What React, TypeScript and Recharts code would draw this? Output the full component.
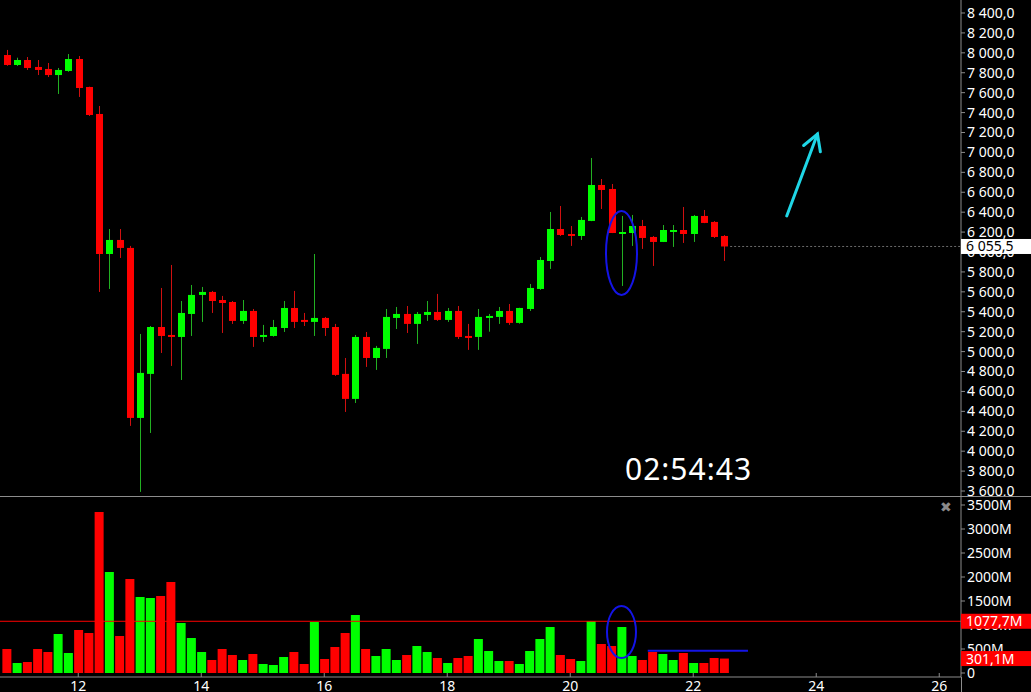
import React from 'react'
import { ComposedChart, Bar, Cell, XAxis, YAxis, ReferenceLine, ReferenceDot } from 'recharts'

// 4h candles, first visible one opens on the 10th at 20:00
const FIRST_CANDLE = 10 + 20 / 24
const CANDLE_STEP = 4 / 24

const opens = [
  7978, 7878, 7928, 7858, 7838, 7777, 7818, 7938, 7657, 7386, 5980, 6121, 6041, 4334, 4776, 5247, 5167, 5147,
  5378, 5569, 5599, 5518, 5498, 5308, 5408, 5147, 5157, 5237, 5438, 5318, 5298, 5338, 5247, 4776, 4525, 5147,
  4936, 5027, 5338, 5378, 5278, 5368, 5398, 5318, 5408, 5157, 5147, 5338, 5348, 5408, 5288, 5428, 5629, 5910,
  6231, 6181, 6161, 6312, 6673, 6633, 6191, 6191, 6261, 6151, 6101, 6201, 6221, 6181, 6362, 6302, 6161,
]
const highs = [
  8029, 7951, 7958, 7928, 7898, 7848, 7988, 7968, 7660, 7466, 6231, 6231, 6061, 5177, 5257, 5639, 5870, 5508,
  5669, 5649, 5609, 5559, 5508, 5518, 5428, 5268, 5318, 5508, 5609, 5388, 5980, 5348, 5278, 4936, 5167, 5197,
  5057, 5428, 5448, 5458, 5398, 5508, 5579, 5438, 5458, 5278, 5428, 5378, 5448, 5478, 5440, 5679, 5950, 6402,
  6462, 6261, 6352, 6944, 6733, 6683, 6362, 6372, 6322, 6160, 6271, 6271, 6452, 6372, 6422, 6310, 6170,
]
const lows = [
  7870, 7868, 7828, 7777, 7757, 7587, 7810, 7557, 7366, 5599, 5629, 5940, 4254, 3591, 4183, 4986, 4856, 4715,
  5157, 5298, 5388, 5187, 5278, 5278, 5047, 5097, 5150, 5197, 5237, 5257, 5157, 5157, 4756, 4394, 4484, 4846,
  4816, 4936, 5227, 5187, 5077, 5308, 5308, 5298, 5127, 5017, 5017, 5200, 5278, 5268, 5280, 5408, 5620, 5830,
  6161, 6061, 6121, 6310, 6432, 6190, 5659, 6061, 6031, 5860, 6100, 6051, 6091, 6101, 6290, 6141, 5910,
]
const closes = [
  7878, 7928, 7848, 7828, 7777, 7828, 7938, 7647, 7376, 5980, 6121, 6041, 4334, 4786, 5247, 5157, 5147, 5388,
  5569, 5599, 5508, 5488, 5308, 5408, 5147, 5167, 5247, 5438, 5298, 5298, 5338, 5237, 4766, 4525, 5147, 4936,
  5037, 5348, 5378, 5278, 5378, 5398, 5318, 5408, 5147, 5147, 5348, 5358, 5408, 5288, 5438, 5639, 5920, 6231,
  6171, 6161, 6322, 6673, 6623, 6191, 6201, 6261, 6141, 6101, 6221, 6221, 6181, 6362, 6292, 6151, 6055.5,
]
// volume in millions
const volumes = [
  500, 208, 229, 500, 437, 812, 417, 896, 833, 3354, 2104, 771, 1958, 1583, 1562, 1604, 1896, 1042,
  729, 437, 271, 500, 375, 271, 396, 187, 167, 333, 437, 187, 1062, 292, 542, 833, 1208, 500,
  354, 500, 271, 375, 562, 437, 312, 208, 312, 354, 708, 458, 250, 250, 187, 458, 708, 958,
  375, 292, 250, 1083, 604, 562, 958, 354, 271, 437, 396, 271, 417, 208, 208, 312, 301.1,
]

const dayTicks = [12, 14, 16, 18, 20, 22, 24, 26]
const priceTicks = [
  3600, 3800, 4000, 4200, 4400, 4600, 4800, 5000, 5200, 5400, 5600, 5800, 6000, 6200, 6400, 6600, 6800,
  7000, 7200, 7400, 7600, 7800, 8000, 8200, 8400,
]
const volumeTicks = [0, 500, 1000, 1500, 2000, 2500, 3000, 3500]

const lastPrice = 6055.5
const avgVolume = 1077.7
const lastVolume = 301.1
const timerText = '02:54:43'

const X_DOMAIN = [10.7276, 26.3537]
const PRICE_DOMAIN = [3550, 8530.5]
const VOLUME_DOMAIN = [-83.33, 3666.67]
const GREEN = '#00ff00'
const RED = '#ff0000'
const GREEN_WICK = '#22b022'
const RED_WICK = '#d01010'
const AXIS = '#8c8c8c'
const BLUE = '#1414e6'
const CYAN = '#1fd6e6'

const candles = opens.map((o, i) => ({
  t: FIRST_CANDLE + i * CANDLE_STEP,
  open: o,
  high: highs[i],
  low: lows[i],
  close: closes[i],
  vol: volumes[i],
  up: closes[i] >= o,
}))

const fmtPrice = (v: number) => {
  const [i, d] = v.toFixed(1).split('.')
  return i.replace(/\B(?=(\d{3})+(?!\d))/g, ' ') + ',' + d
}
const fmtVol = (v: number) => (v === 0 ? '0' : `${v}M`)
const fmtVolTag = (v: number) => `${v.toFixed(1).replace('.', ',')}M`

function Candle(props: any) {
  const { x, y, width, height, payload } = props
  if (x == null || !payload) return null
  const top = Math.min(y, y + height)
  const h = Math.abs(height)
  const k = h / (payload.high - payload.low)
  const yO = top + (payload.high - payload.open) * k
  const yC = top + (payload.high - payload.close) * k
  const cx = Math.round(x + width / 2) + 0.5
  const bodyTop = Math.min(yO, yC)
  const bodyH = Math.max(2, Math.abs(yO - yC))
  return (
    <g>
      <line x1={cx} x2={cx} y1={top} y2={top + h} stroke={payload.up ? GREEN_WICK : RED_WICK} strokeWidth={1} />
      <rect x={cx - width / 2} y={bodyTop} width={width} height={bodyH} fill={payload.up ? GREEN : RED} />
    </g>
  )
}

function AxisTag(props: any) {
  const { viewBox, text, bg, fg } = props
  if (!viewBox) return null
  const x = viewBox.x + viewBox.width
  return (
    <g>
      <rect x={x} y={viewBox.y - 7.5} width={70} height={15} fill={bg} />
      <text x={x + 5} y={viewBox.y + 5} fill={fg} fontSize={14}>
        {text}
      </text>
    </g>
  )
}

function Arrow(p: any) {
  const { x1, y1, x2, y2 } = p
  const ang = Math.atan2(y1 - y2, x1 - x2)
  const len = 18
  const w1x = x2 + len * Math.cos(ang + 0.52)
  const w1y = y2 + len * Math.sin(ang + 0.52)
  const w2x = x2 + len * Math.cos(ang - 0.52)
  const w2y = y2 + len * Math.sin(ang - 0.52)
  return (
    <g stroke={CYAN} strokeWidth={3} fill="none" strokeLinecap="round">
      <line x1={x1} y1={y1} x2={x2} y2={y2} />
      <polyline points={`${w1x},${w1y} ${x2},${y2} ${w2x},${w2y}`} />
    </g>
  )
}

const tickStyle = { fill: '#ffffff', fontSize: 14 }
const noMargin = { top: 0, right: 0, bottom: 0, left: 0 }
const layer = { position: 'absolute' as const, left: 0 }

export default function App() {
  return (
    <div
      style={{
        position: 'absolute',
        left: 0,
        top: 0,
        width: 1031,
        height: 692,
        background: '#000',
        overflow: 'hidden',
        fontFamily: '"Noto Sans", sans-serif',
      }}
    >
      {/* price pane */}
      <div style={{ ...layer, top: 0 }}>
        <ComposedChart width={1031} height={496} data={candles} margin={noMargin}>
          <XAxis type="number" dataKey="t" domain={X_DOMAIN} allowDataOverflow hide />
          <YAxis
            orientation="right"
            width={70}
            domain={PRICE_DOMAIN}
            allowDataOverflow
            ticks={priceTicks}
            interval={0}
            tickSize={4}
            tickMargin={2}
            tick={tickStyle}
            tickFormatter={fmtPrice}
            axisLine={{ stroke: AXIS }}
            tickLine={{ stroke: AXIS }}
          />
          <Bar dataKey={(d: any) => [d.low, d.high]} barSize={7} shape={Candle} isAnimationActive={false} />
          <ReferenceLine
            segment={[
              { x: 22.6, y: lastPrice },
              { x: X_DOMAIN[1], y: lastPrice },
            ]}
            stroke="#6a6a6a"
            strokeDasharray="2 2"
          />
          <ReferenceDot
            x={candles[60].t}
            y={5990}
            shape={(p: any) => (
              <ellipse cx={p.cx} cy={p.cy} rx={15.5} ry={42} fill="none" stroke={BLUE} strokeWidth={2} />
            )}
          />
          <ReferenceLine
            segment={[
              { x: 23.52, y: 6362 },
              { x: 24.02, y: 7185 },
            ]}
            shape={Arrow}
          />
        </ComposedChart>
      </div>
      {/* price tag drawn above the axis labels */}
      <div style={{ ...layer, top: 0, pointerEvents: 'none' }}>
        <ComposedChart width={1031} height={496} data={candles} margin={noMargin}>
          <XAxis type="number" dataKey="t" domain={X_DOMAIN} allowDataOverflow hide />
          <YAxis orientation="right" width={70} domain={PRICE_DOMAIN} allowDataOverflow tick={false} axisLine={false} tickLine={false} />
          <ReferenceLine
            y={lastPrice}
            stroke="none"
            label={<AxisTag text={fmtPrice(lastPrice)} bg="#ffffff" fg="#000000" />}
          />
        </ComposedChart>
      </div>
      <div style={{ position: 'absolute', left: 0, top: 496, width: 1031, height: 1, background: AXIS }} />
      {/* volume pane */}
      <div style={{ ...layer, top: 497 }}>
        <ComposedChart width={1031} height={195} data={candles} margin={noMargin}>
          <XAxis
            type="number"
            dataKey="t"
            domain={X_DOMAIN}
            allowDataOverflow
            ticks={dayTicks}
            interval={0}
            height={15}
            tickSize={-4}
            tickMargin={8}
            tick={tickStyle}
            axisLine={{ stroke: AXIS }}
            tickLine={{ stroke: AXIS }}
          />
          <YAxis
            orientation="right"
            width={70}
            domain={VOLUME_DOMAIN}
            allowDataOverflow
            ticks={volumeTicks}
            interval={0}
            tickSize={4}
            tickMargin={2}
            tick={tickStyle}
            tickFormatter={fmtVol}
            axisLine={{ stroke: AXIS }}
            tickLine={{ stroke: AXIS }}
          />
          <Bar dataKey="vol" barSize={9} isAnimationActive={false}>
            {candles.map((c, i) => (
              <Cell key={i} fill={c.up ? GREEN : RED} />
            ))}
          </Bar>
          <ReferenceLine y={avgVolume} stroke={RED} />
          <ReferenceLine
            segment={[
              { x: 21.26, y: 465 },
              { x: 22.89, y: 465 },
            ]}
            stroke={BLUE}
            strokeWidth={2}
          />
          <ReferenceDot
            x={candles[60].t}
            y={854}
            shape={(p: any) => (
              <ellipse cx={p.cx} cy={p.cy} rx={14.5} ry={26} fill="none" stroke={BLUE} strokeWidth={2} />
            )}
          />
        </ComposedChart>
      </div>
      {/* volume tags drawn above the axis labels */}
      <div style={{ ...layer, top: 497, pointerEvents: 'none' }}>
        <ComposedChart width={1031} height={195} data={candles} margin={noMargin}>
          <XAxis type="number" dataKey="t" domain={X_DOMAIN} allowDataOverflow height={15} tick={false} axisLine={false} tickLine={false} />
          <YAxis orientation="right" width={70} domain={VOLUME_DOMAIN} allowDataOverflow tick={false} axisLine={false} tickLine={false} />
          <ReferenceLine y={avgVolume} stroke="none" label={<AxisTag text={fmtVolTag(avgVolume)} bg={RED} fg="#ffffff" />} />
          <ReferenceLine y={lastVolume} stroke="none" label={<AxisTag text={fmtVolTag(lastVolume)} bg={RED} fg="#ffffff" />} />
        </ComposedChart>
      </div>
      <div style={{ position: 'absolute', left: 961, top: 677, width: 1, height: 15, background: AXIS }} />
      <div
        style={{
          position: 'absolute',
          left: 625,
          top: 454,
          fontSize: 30,
          lineHeight: '30px',
          letterSpacing: 1,
          color: '#ffffff',
        }}
      >
        {timerText}
      </div>
      <div
        style={{
          position: 'absolute',
          left: 940,
          top: 498,
          fontSize: 14,
          lineHeight: '18px',
          color: '#8a8a8a',
        }}
      >
        ✖
      </div>
    </div>
  )
}
